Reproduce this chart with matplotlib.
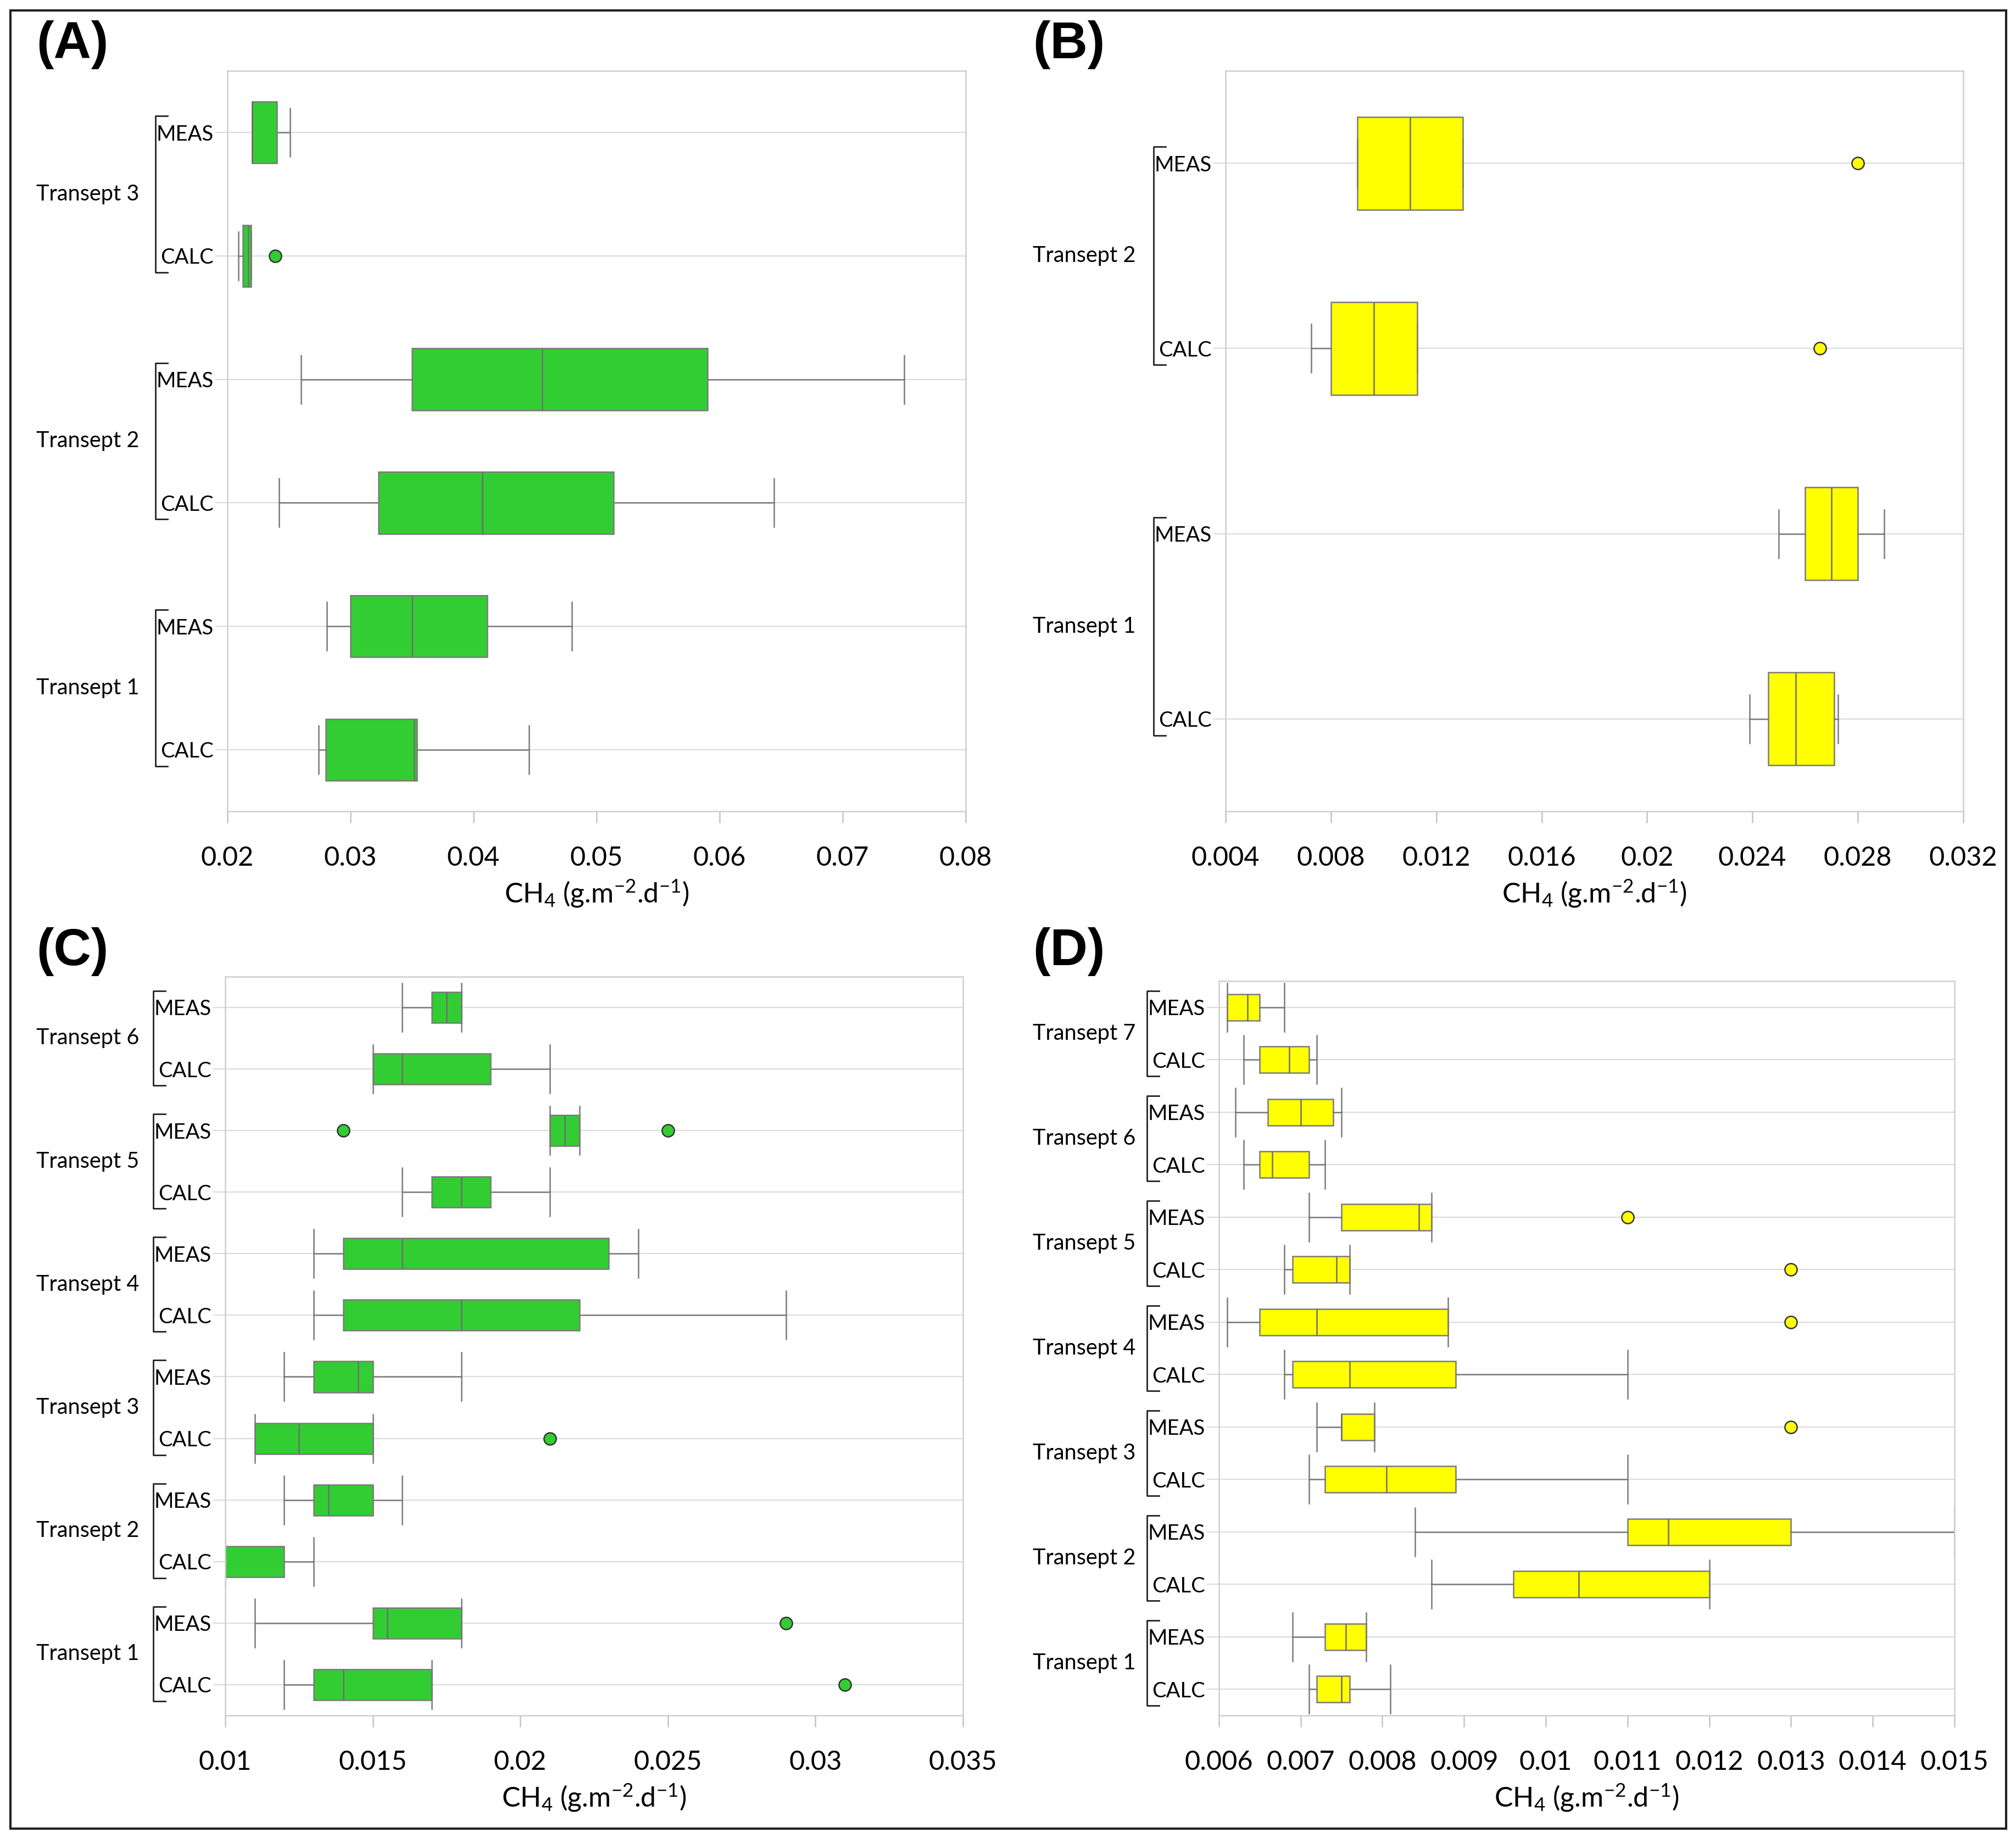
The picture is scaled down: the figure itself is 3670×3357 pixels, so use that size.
import matplotlib
matplotlib.use('Agg')
import matplotlib.pyplot as plt
import matplotlib.transforms as mtransforms
from matplotlib.patches import Rectangle
from matplotlib.ticker import FuncFormatter

plt.rcParams['font.family'] = ['Lato', 'DejaVu Sans']
plt.rcParams['mathtext.default'] = 'regular'

# values ordered bottom -> top: T1 CALC, T1 MEAS, T2 CALC, T2 MEAS, ...
a_groups = ['Transept 1', 'Transept 2', 'Transept 3']
a_lo  = [0.0274, 0.0281, 0.0242, 0.0260, 0.0209, 0.0220]
a_q1  = [0.0280, 0.0300, 0.0323, 0.0350, 0.02125, 0.0220]
a_med = [0.0352, 0.0350, 0.0407, 0.0456, 0.0217, 0.0220]
a_q3  = [0.0354, 0.0411, 0.0514, 0.0590, 0.0219, 0.0240]
a_hi  = [0.0445, 0.0480, 0.0644, 0.0750, 0.0219, 0.0251]
a_out = [[], [], [], [], [0.0239], []]

b_groups = ['Transept 1', 'Transept 2']
b_lo  = [0.0239, 0.0250, 0.00726, 0.0090]
b_q1  = [0.0246, 0.0260, 0.0080, 0.0090]
b_med = [0.02565, 0.0270, 0.00962, 0.0110]
b_q3  = [0.0271, 0.0280, 0.01128, 0.0130]
b_hi  = [0.02725, 0.0290, 0.01128, 0.0130]
b_out = [[], [], [0.02657], [0.0280]]

c_groups = ['Transept 1', 'Transept 2', 'Transept 3', 'Transept 4', 'Transept 5', 'Transept 6']
c_lo  = [0.012, 0.011, 0.010, 0.012, 0.011, 0.012, 0.013, 0.013, 0.016, 0.021, 0.015, 0.016]
c_q1  = [0.013, 0.015, 0.010, 0.013, 0.011, 0.013, 0.014, 0.014, 0.017, 0.021, 0.015, 0.017]
c_med = [0.014, 0.0155, 0.010, 0.0135, 0.0125, 0.0145, 0.018, 0.016, 0.018, 0.0215, 0.016, 0.0175]
c_q3  = [0.017, 0.018, 0.012, 0.015, 0.015, 0.015, 0.022, 0.023, 0.019, 0.022, 0.019, 0.018]
c_hi  = [0.017, 0.018, 0.013, 0.016, 0.015, 0.018, 0.029, 0.024, 0.021, 0.022, 0.021, 0.018]
c_out = [[0.031], [0.029], [], [], [0.021], [], [], [], [], [0.014, 0.025], [], []]

d_groups = ['Transept 1', 'Transept 2', 'Transept 3', 'Transept 4', 'Transept 5', 'Transept 6', 'Transept 7']
d_lo  = [0.0071, 0.0069, 0.0086, 0.0084, 0.0071, 0.0072, 0.0068, 0.0061, 0.0068, 0.0071, 0.0063, 0.0062, 0.0063, 0.0061]
d_q1  = [0.0072, 0.0073, 0.0096, 0.0110, 0.0073, 0.0075, 0.0069, 0.0065, 0.0069, 0.0075, 0.0065, 0.0066, 0.0065, 0.0061]
d_med = [0.0075, 0.00755, 0.0104, 0.0115, 0.00805, 0.0075, 0.0076, 0.0072, 0.00744, 0.00845, 0.00665, 0.0070, 0.00686, 0.00635]
d_q3  = [0.0076, 0.0078, 0.0120, 0.0130, 0.0089, 0.0079, 0.0089, 0.0088, 0.0076, 0.0086, 0.0071, 0.0074, 0.0071, 0.0065]
d_hi  = [0.0081, 0.0078, 0.0120, 0.0150, 0.0110, 0.0079, 0.0110, 0.0088, 0.0076, 0.0086, 0.0073, 0.0075, 0.0072, 0.0068]
d_out = [[], [], [], [], [], [0.013], [], [0.013], [0.013], [0.011], [], [], [], []]

a_ticks = [0.02, 0.03, 0.04, 0.05, 0.06, 0.07, 0.08]
b_ticks = [0.004, 0.008, 0.012, 0.016, 0.02, 0.024, 0.028, 0.032]
c_ticks = [0.01, 0.015, 0.02, 0.025, 0.03, 0.035]
d_ticks = [0.006, 0.007, 0.008, 0.009, 0.01, 0.011, 0.012, 0.013, 0.014, 0.015]

sub_names = ['CALC', 'MEAS']
green = '#32CD32'
yellow = '#FFFF00'

W, H = 3670, 3357
fig = plt.figure(figsize=(W / 100, H / 100), dpi=100)

# outer frame
fig.patches.append(Rectangle((19 / W, 1 - 3329 / H), (3652 - 19) / W, (3329 - 19) / H,
                             transform=fig.transFigure, fill=False,
                             edgecolor='#222222', linewidth=3))

panels = [
    ('(A)', [0.1128, 0.5600, 0.3662, 0.4016], a_groups, a_lo, a_q1, a_med, a_q3, a_hi, a_out, a_ticks, green, 66),
    ('(B)', [0.6079, 0.5600, 0.3659, 0.4016], b_groups, b_lo, b_q1, b_med, b_q3, b_hi, b_out, b_ticks, yellow, 1880),
    ('(C)', [0.1117, 0.0697, 0.3659, 0.4007], c_groups, c_lo, c_q1, c_med, c_q3, c_hi, c_out, c_ticks, green, 66),
    ('(D)', [0.6046, 0.0697, 0.3649, 0.3983], d_groups, d_lo, d_q1, d_med, d_q3, d_hi, d_out, d_ticks, yellow, 1880),
]

for (tag, rect, groups, lo, q1, med, q3, hi, out, ticks, color, grp_x) in panels:
    ax = fig.add_axes(rect)
    n = len(lo)
    ax_w_px = rect[2] * W
    ax_h_px = rect[3] * H
    px_per_unit = ax_h_px / n

    stats = []
    for i in range(n):
        stats.append(dict(whislo=lo[i], q1=q1[i], med=med[i], q3=q3[i],
                          whishi=hi[i], fliers=out[i]))
    ax.bxp(stats, positions=list(range(n)), widths=0.5, orientation='horizontal',
           patch_artist=True, showfliers=True,
           capwidths=88 / px_per_unit,
           boxprops=dict(facecolor=color, edgecolor='#7a7a7a', linewidth=1.8),
           medianprops=dict(color='#6e6e6e', linewidth=1.8),
           whiskerprops=dict(color='#7a7a7a', linewidth=1.8),
           capprops=dict(color='#7a7a7a', linewidth=1.8),
           flierprops=dict(marker='o', markerfacecolor=color, markeredgecolor='#333333',
                           markersize=16, markeredgewidth=1.8))

    ax.set_ylim(-0.5, n - 0.5)
    ax.set_xlim(ticks[0], ticks[-1])
    ax.set_xticks(ticks)
    ax.xaxis.set_major_formatter(FuncFormatter(lambda v, p: f'{round(v, 6):g}'))
    ax.set_yticks(list(range(n)))
    ax.set_yticklabels([sub_names[i % 2] for i in range(n)])
    ax.set_axisbelow(True)
    ax.grid(axis='y', color='#dcdcdc', linewidth=1.6)
    ax.grid(axis='x', visible=False)
    for s in ax.spines.values():
        s.set_color('#cfcfcf')
        s.set_linewidth(1.8)
    ax.tick_params(axis='x', length=15, width=1.8, color='#c4c4c4', pad=30, labelsize=35)
    ax.tick_params(axis='y', length=16, width=1.6, color='#dcdcdc', pad=2, labelsize=27.5)
    ax.set_xlabel('CH$_4$ (g.m$^{-2}$.d$^{-1}$)', fontsize=36, labelpad=11)

    # group brackets and names
    trans = mtransforms.blended_transform_factory(ax.transAxes, ax.transData)
    bx = -131 / ax_w_px
    bt = -(131 - 22) / ax_w_px
    off = 30 / px_per_unit
    for g in range(len(groups)):
        y_calc = 2 * g
        y_meas = 2 * g + 1
        ax.plot([bt, bx, bx, bt], [y_meas + off, y_meas + off, y_calc - off, y_calc - off],
                transform=trans, color='#222222', linewidth=2, clip_on=False)
        ftrans = mtransforms.blended_transform_factory(fig.transFigure, ax.transData)
        fig.text(grp_x / W, (y_calc + y_meas) / 2, groups[g], transform=ftrans,
                 ha='left', va='center', fontsize=28.5)

    ytag = 0.9756 if tag in ('(A)', '(B)') else 0.484
    fig.text(grp_x / W, ytag, tag, ha='left', va='center', fontsize=68,
             fontweight='bold', family=['Liberation Sans', 'DejaVu Sans'])

fig.savefig('out.png', dpi=100)
